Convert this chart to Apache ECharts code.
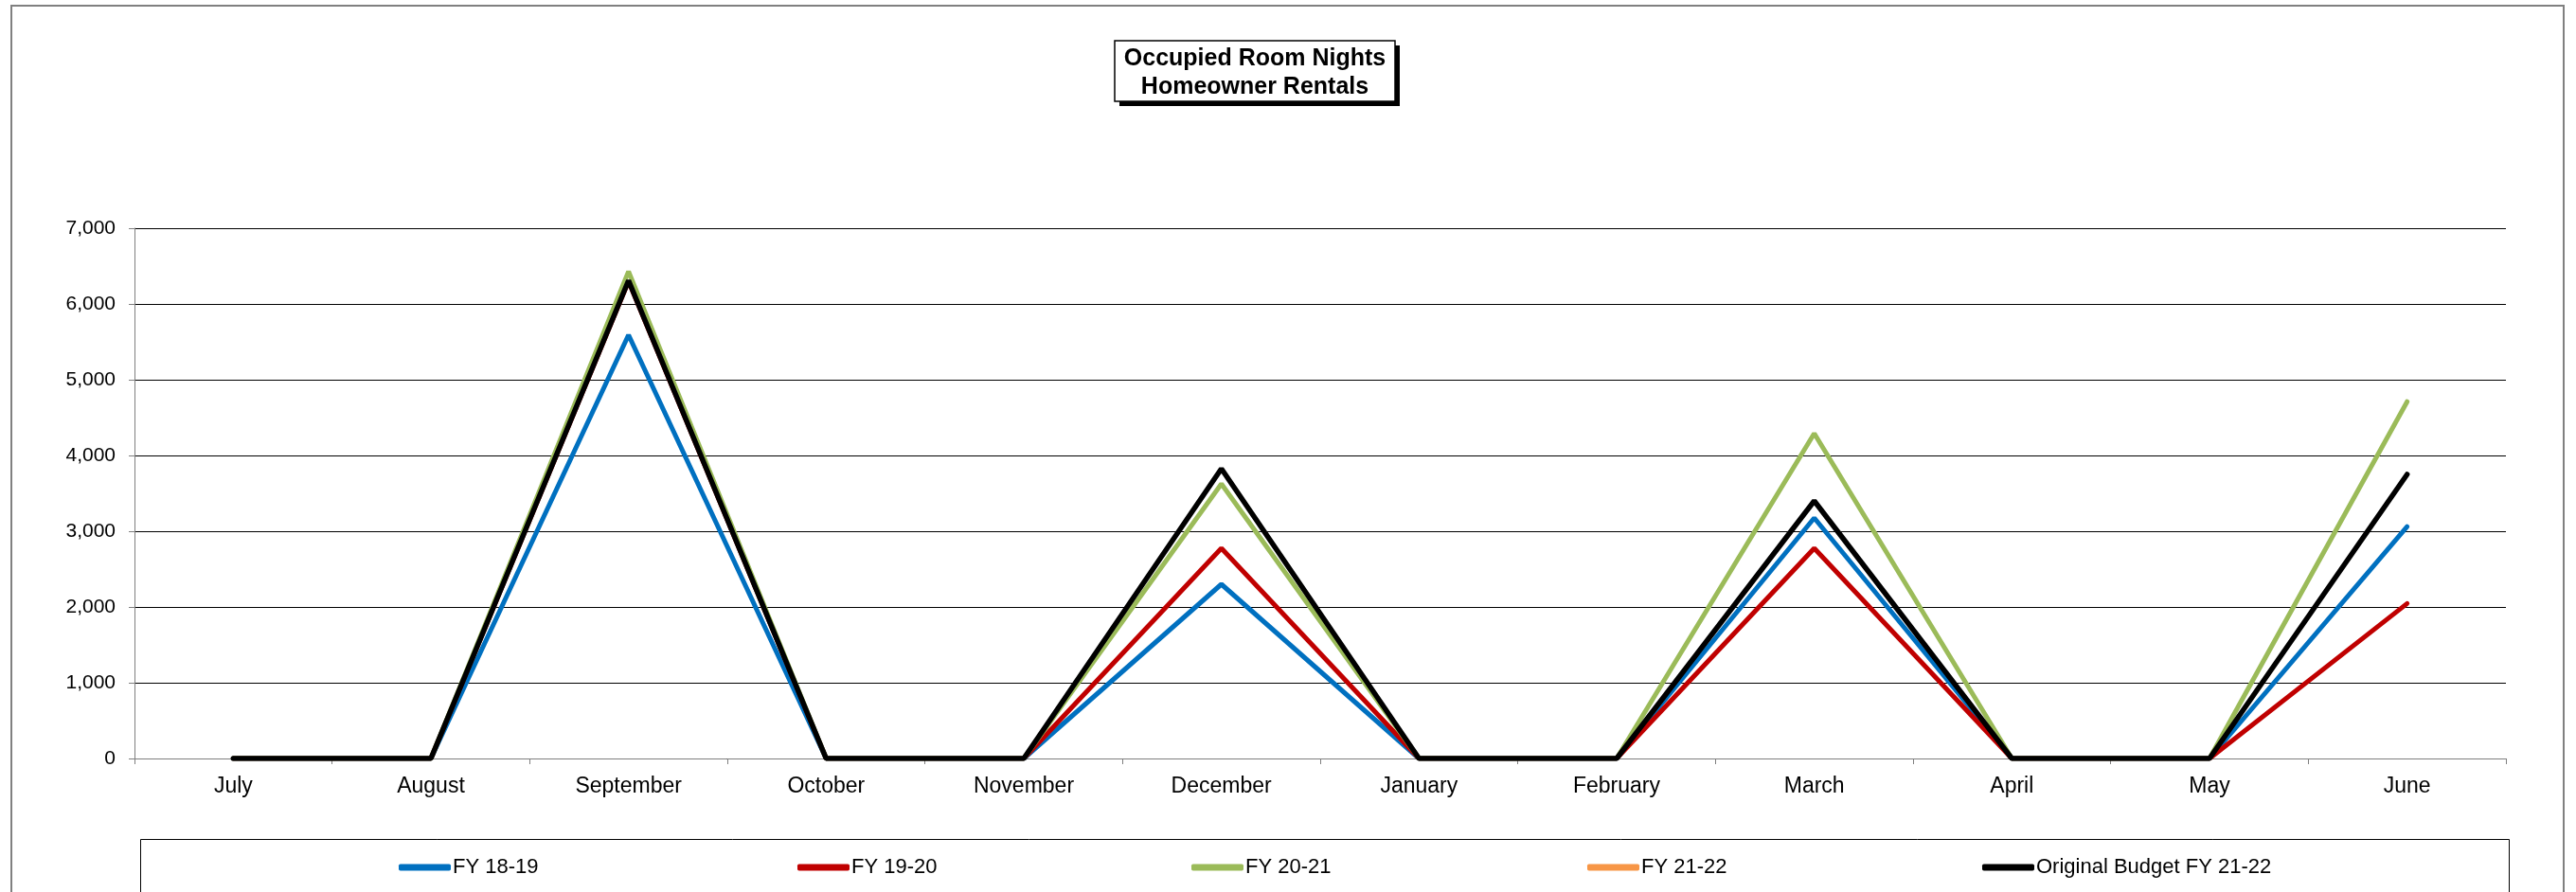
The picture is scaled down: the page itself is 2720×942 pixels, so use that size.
<!DOCTYPE html>
<html>
<head>
<meta charset="utf-8">
<script src="https://cdn.jsdelivr.net/npm/echarts@6/dist/echarts.min.js"></script>
<style>
html,body{margin:0;padding:0;background:#fff;}
#c{width:2720px;height:942px;}
</style>
</head>
<body>
<div id="c"></div>
<script>
const months = ["July","August","September","October","November","December","January","February","March","April","May","June"];
const yTicks = [0,1000,2000,3000,4000,5000,6000,7000];
const fy1819 = [0,0,5590,0,0,2300,0,0,3175,0,0,3060];
const fy1920 = [0,0,6300,0,0,2775,0,0,2775,0,0,2045];
const fy2021 = [0,0,6430,0,0,3625,0,0,4290,0,0,4710];
const fy2122 = [null,null,null,null,null,null,null,null,null,null,null,null];
const budget2122 = [0,0,6310,0,0,3825,0,0,3400,0,0,3750];
const seriesNames = ["FY 18-19","FY 19-20","FY 20-21","FY 21-22","Original Budget FY 21-22"];
const seriesColors = ["#0070C0","#C00000","#9BBB59","#F79646","#000000"];
const seriesData = [fy1819, fy1920, fy2021, fy2122, budget2122];
const legendLeft = [421, 842, 1258, 1676, 2093];

const FONT = "Arial, 'Liberation Sans', sans-serif";
const chart = echarts.init(document.getElementById('c'), null, {renderer:'canvas'});

const legends = seriesNames.map((n,i)=>({
  data:[{name:n, icon:'roundRect'}],
  left: legendLeft[i], top: 905, padding:0,
  itemWidth:55, itemHeight:7, itemGap:0,
  textStyle:{fontFamily:FONT, fontSize:22, color:'#000', padding:[0,0,0,-3], lineHeight:22},
  selectedMode:false
}));

chart.setOption({
  animation:false,
  backgroundColor:'#fff',
  grid:{left:142, right:74, top:241, bottom:141},
  legend: legends,
  xAxis:{
    type:'category', data:months, boundaryGap:true,
    axisLine:{show:true, lineStyle:{color:'#7f7f7f', width:1}},
    axisTick:{show:true, length:6, lineStyle:{color:'#7f7f7f'}},
    axisLabel:{color:'#000', fontFamily:FONT, fontSize:23, margin:18, interval:0}
  },
  yAxis:{
    type:'value', min:yTicks[0], max:yTicks[yTicks.length-1], interval:1000,
    axisLine:{show:true, lineStyle:{color:'#7f7f7f', width:1}},
    axisTick:{show:true, length:6, lineStyle:{color:'#7f7f7f'}},
    axisLabel:{color:'#000', fontFamily:FONT, fontSize:21, margin:20,
      formatter:v=>v.toLocaleString('en-US')},
    splitLine:{show:true, lineStyle:{color:'#000', width:1}}
  },
  series: seriesData.map((d,i)=>({
    name:seriesNames[i], type:'line', data:d, showSymbol:false, symbol:'none',
    lineStyle:{color:seriesColors[i], width: i===4?5.5:5, cap:'round'},
    itemStyle:{color:seriesColors[i]},
    z: 2+i
  })),
  graphic:[
    {type:'rect', shape:{x:12, y:6, width:2695, height:1000}, style:{fill:'none', stroke:'#808080', lineWidth:2}, z:-1, silent:true},
    {type:'rect', shape:{x:148.5, y:886.5, width:2501, height:200}, style:{fill:'none', stroke:'#000', lineWidth:1}, z:-1, silent:true},
    {type:'rect', shape:{x:1182, y:48, width:296, height:64}, style:{fill:'#000'}, silent:true},
    {type:'rect', shape:{x:1177, y:43, width:296, height:64}, style:{fill:'#fff', stroke:'#000', lineWidth:1.5}, silent:true},
    {type:'text', x:1325, y:62, style:{text:'Occupied Room Nights', font:"bold 25px Arial, 'Liberation Sans', sans-serif", fill:'#000', align:'center', verticalAlign:'middle'}, silent:true},
    {type:'text', x:1325, y:92, style:{text:'Homeowner Rentals', font:"bold 25px Arial, 'Liberation Sans', sans-serif", fill:'#000', align:'center', verticalAlign:'middle'}, silent:true}
  ]
});
</script>
</body>
</html>
